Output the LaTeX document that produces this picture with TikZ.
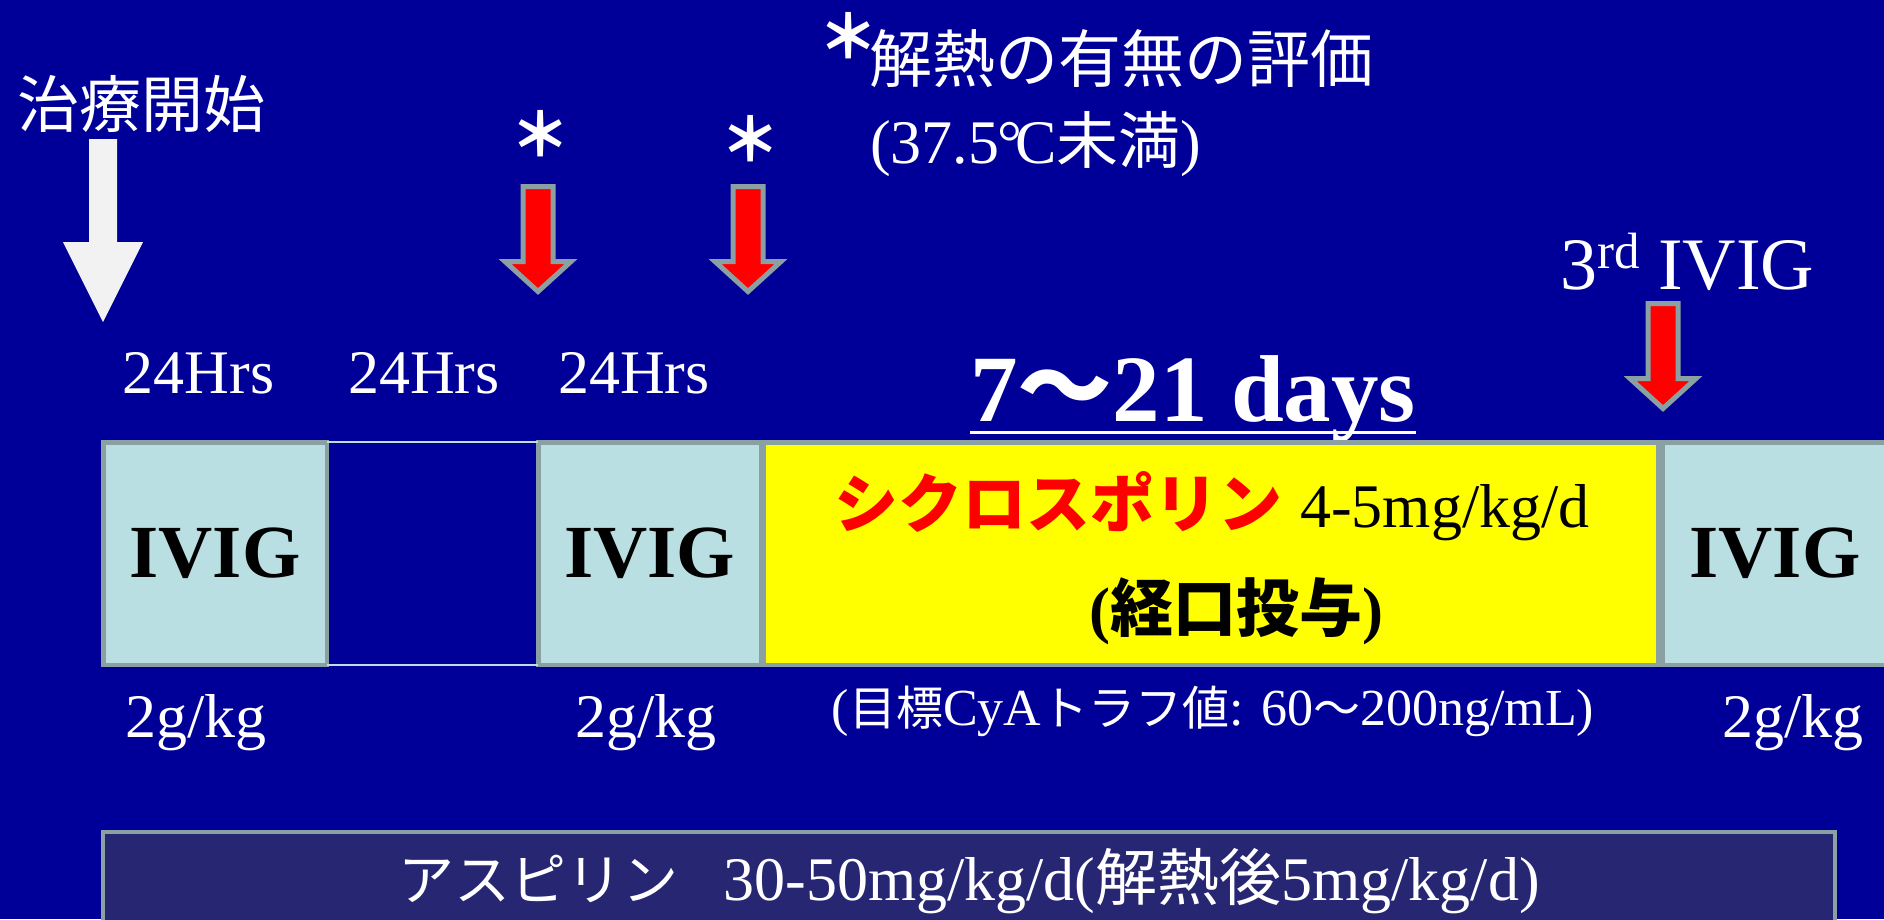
\documentclass[tikz,border=0pt]{standalone}
\usepackage{fontspec}
\setmainfont{Liberation Serif}
\newfontfamily\jp{Noto Sans CJK JP}
\usetikzlibrary{calc}
\definecolor{bg}{RGB}{0,0,153}
\definecolor{boxline}{RGB}{138,160,163}
\definecolor{ivig}{RGB}{185,223,227}
\definecolor{asp}{RGB}{38,38,115}
\definecolor{warrow}{RGB}{242,242,242}
\definecolor{cyared}{RGB}{255,0,0}
\definecolor{cyayellow}{RGB}{255,255,0}
\newcommand\fs[1]{\fontsize{#1}{#1}\selectfont}
\newcommand\redarr[2]{%
  \draw[redarrow] (#1-15,#2) -- (#1+15,#2) -- (#1+15,#2+75) -- (#1+33,#2+75)
    -- (#1,#2+105) -- (#1-33,#2+75) -- (#1-15,#2+75) -- cycle;}
\tikzset{
  wt/.style={text=white, inner sep=0pt, outer sep=0pt},
  bk/.style={text=black, inner sep=0pt, outer sep=0pt},
  ivigbox/.style={draw=boxline, line width=4.5pt, fill=ivig, minimum width=#1,
    minimum height=222.5pt, inner sep=0pt, outer sep=0pt, font=\fs{75}\bfseries, text=black},
  cyabox/.style={draw=boxline, line width=4.5pt, fill=cyayellow, minimum width=#1,
    minimum height=222.5pt, inner sep=0pt, outer sep=0pt},
  aspbox/.style={draw=boxline, line width=4pt, fill=asp, minimum width=1731.5pt,
    minimum height=108pt, inner sep=0pt, outer sep=0pt},
  redarrow/.style={draw=boxline, line width=5pt, fill=cyared, line join=miter},
  gaplines/.style={draw=ivig, line width=1.6pt},
  star/.style={text=white, inner sep=0pt, font=\jp\bfseries\fs{60}},
}
\begin{document}
\begin{tikzpicture}[x=1pt,y=-1pt]
\useasboundingbox (0,0) rectangle (1884,919);
\clip (0,0) rectangle (1884,919);
\fill[bg] (0,0) rectangle (1884,919);

% start arrow
\fill[warrow] (89,139) -- (117,139) -- (117,242) -- (143,242) -- (103,322)
  -- (63,242) -- (89,242) -- cycle;
\node[wt, anchor=base west, font=\jp\fs{62}] (start) at (17,127.5) {治療開始};

% evaluation note
\node[star] (ast0) at (848,36) {＊};
\node[wt, anchor=base west, font=\jp\fs{63}] (eval) at (869,82) {解熱の有無の評価};
\node[wt, anchor=base west, font=\fs{62}] (temp) at (870,163) {(37.5\kern-0.02em°\kern-0.12em C{\jp 未満})};

% asterisks and red arrows
\node[star] (ast1) at (540,134) {＊};
\node[star] (ast2) at (750,139) {＊};
\redarr{538}{186.5}
\redarr{748}{186.5}
\redarr{1663}{303.5}

% 3rd IVIG
\node[wt, anchor=base west, font=\fs{74}] (third) at (1560,289) {3\raisebox{21pt}{\fs{51}rd} IVIG};

% hours
\node[wt, anchor=base, font=\fs{62}] (h1) at (198.5,393) {24Hrs};
\node[wt, anchor=base, font=\fs{62}] (h2) at (424,393) {24Hrs};
\node[wt, anchor=base, font=\fs{62}] (h3) at (634,393) {24Hrs};

% days
\node[wt, anchor=base west, font=\fs{95}\bfseries] (days) at (970,421) {7{\jp ～}21 days};
\draw[white, line width=3pt] ($(days.base west)+(0,11)$) -- ($(days.base east)+(0,11)$);

% boxes
\node[ivigbox=223.5pt] (b1) at (215,553.5) {IVIG};
\node[ivigbox=222.5pt] (b2) at (649.5,553.5) {IVIG};
\draw[gaplines] (b1.north east) -- (b2.north west);
\draw[gaplines] (b1.south east) -- (b2.south west);
\node[cyabox=894.5pt] (cya) at (1210.5,553.5) {};
\node[ivigbox=225.5pt] (b3) at (1775,553.5) {IVIG};

\node[bk, anchor=base] (cyaname) at (1212,527)
  {{\jp\bfseries\fs{64}\color{cyared}シクロスポリン}\hspace{18pt}{\fs{62}4-5mg/kg/d}};
\node[bk, anchor=base, font=\fs{63}\bfseries] (oral) at (1236,631) {({\jp 経口投与})};

% doses
\node[wt, anchor=base, font=\fs{62}] (d1) at (196,737) {2g/kg};
\node[wt, anchor=base, font=\fs{62}] (d2) at (646,737) {2g/kg};
\node[wt, anchor=base, font=\fs{62}] (d3) at (1793,737) {2g/kg};
\node[wt, anchor=base, font=\fs{52}] (target) at (1213,725)
  {({\jp\fs{47}目標}CyA{\jp\fs{47}トラフ値}: 60{\jp\fs{47}～}200ng/mL)};

% aspirin
\node[aspbox] (asp) at (969,886) {};
\node[wt, anchor=base] (asptext) at (969,900)
  {{\jp\fs{56}アスピリン}\hspace{45pt}{\fs{62}30-50mg/kg/d({\jp\fs{62}解熱後}5mg/kg/d)}};
\end{tikzpicture}
\end{document}
